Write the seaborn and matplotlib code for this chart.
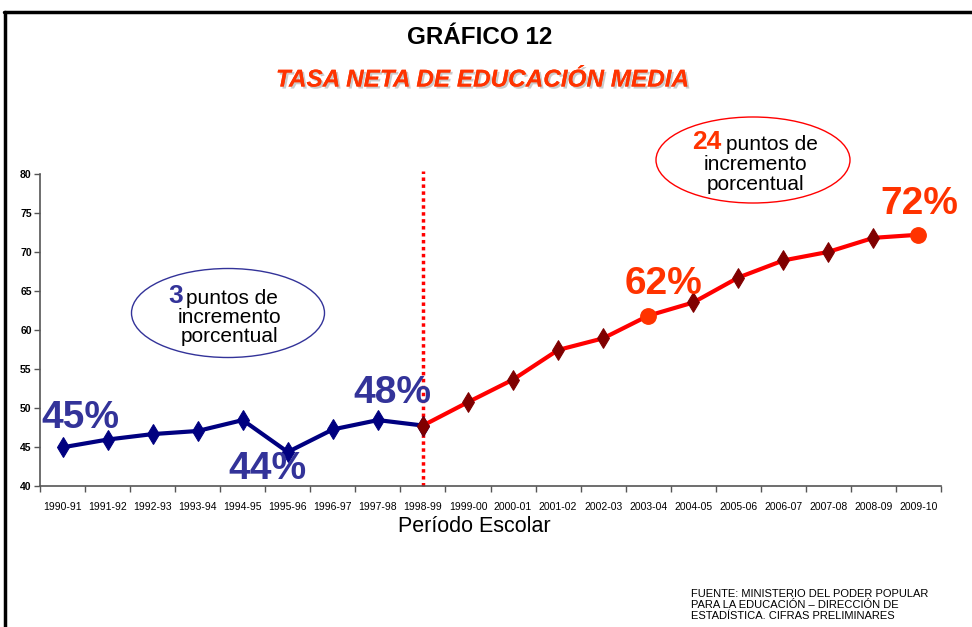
import matplotlib
matplotlib.use("Agg")
import matplotlib.pyplot as plt
import matplotlib.patheffects as pe
from matplotlib.patches import Ellipse
from matplotlib.lines import Line2D
import seaborn as sns
import pandas as pd

# Data
periods = ["1990-91", "1991-92", "1992-93", "1993-94", "1994-95", "1995-96", "1996-97",
           "1997-98", "1998-99", "1999-00", "2000-01", "2001-02", "2002-03", "2003-04",
           "2004-05", "2005-06", "2006-07", "2007-08", "2008-09", "2009-10"]
tasa = [44.9, 45.9, 46.6, 47.0, 48.4, 44.3, 47.2, 48.4, 47.7, 50.7,
        53.6, 57.4, 58.9, 61.8, 63.5, 66.7, 68.9, 70.0, 71.8, 72.2]
highlight = ["2003-04", "2009-10"]
y_ticks = [40, 45, 50, 55, 60, 65, 70, 75, 80]

df = pd.DataFrame({"periodo": periods, "tasa": tasa})
first = df.iloc[:9]
second = df.iloc[8:]
marked = second[~second["periodo"].isin(highlight)]
circles = second[second["periodo"].isin(highlight)]

sns.set_theme(style="white")
plt.rcParams["font.family"] = ["Liberation Sans", "DejaVu Sans"]
plt.rcParams["text.color"] = "black"
plt.rcParams["axes.labelcolor"] = "black"
plt.rcParams["xtick.color"] = "black"
plt.rcParams["ytick.color"] = "black"

W, H = 972, 627
fig = plt.figure(figsize=(9.72, 6.27), dpi=100)
ax = fig.add_axes([40 / W, 1 - 485.5 / H, 901 / W, 311.5 / H])


def px(x, y):
    return x / W, 1 - y / H


sns.lineplot(data=first, x="periodo", y="tasa", ax=ax, color="#000080", lw=3,
             marker="d", markersize=10, markeredgecolor="#000080", sort=False)
sns.lineplot(data=second, x="periodo", y="tasa", ax=ax, color="#FF0000", lw=3, sort=False)
sns.scatterplot(data=marked, x="periodo", y="tasa", ax=ax, marker="d", s=100,
                color="#800000", edgecolor="#800000", zorder=5)
sns.scatterplot(data=circles, x="periodo", y="tasa", ax=ax, marker="o", s=125,
                color="#FF3300", edgecolor="#FF3300", zorder=5)

ax.axvline(periods.index("1998-99"), ymin=0, ymax=1.01, color="#FF0000", ls=(0, (1, 1)),
           lw=2.5, zorder=1, clip_on=False)

ax.set_xlim(-0.5, len(periods) - 0.5)
ax.set_ylim(40, 80)
ax.set_yticks(y_ticks)
ax.set_xticks(range(len(periods)))
ax.set_xticklabels(periods, fontsize=7.5)
ax.set_xticks([i - 0.5 for i in range(len(periods) + 1)], minor=True)
ax.tick_params(axis="x", which="major", length=0, pad=12)
ax.tick_params(axis="x", which="minor", length=4, width=1, color="#555555", direction="out")
ax.tick_params(axis="y", length=4, width=1, color="#555555", direction="out", pad=2)
ax.tick_params(axis="both", which="both", bottom=True, left=True)
for lab in ax.get_yticklabels():
    lab.set_fontsize(7.5)
    lab.set_fontweight("bold")
for side in ["top", "right"]:
    ax.spines[side].set_visible(False)
for side in ["left", "bottom"]:
    ax.spines[side].set_color("#555555")
    ax.spines[side].set_linewidth(1.2)
ax.set_xlabel("Período Escolar", fontsize=15.5)
ax.xaxis.set_label_coords((474 - 40) / 901, -(527 - 485.5) / 311.5)
ax.xaxis.label.set_va("center")
ax.set_ylabel("")

# titles
fig.text(*px(480, 38), "GRÁFICO 12", fontsize=17.5, fontweight="bold", ha="center", va="center")
fig.text(*px(482, 80), "TASA NETA DE EDUCACIÓN MEDIA", fontsize=17.5, fontweight="bold",
         style="italic", color="#FF3300", ha="center", va="center",
         path_effects=[pe.withSimplePatchShadow(offset=(1.5, -1.5), shadow_rgbFace="#999999", alpha=0.5),
                       pe.Normal()])

# percentage labels
blue_txt = "#333399"
orange_txt = "#FF3300"
for x, y, s, c in [(80, 418, "45%", blue_txt), (267, 469, "44%", blue_txt),
                   (392, 393, "48%", blue_txt), (663, 284, "62%", orange_txt),
                   (919, 204, "72%", orange_txt)]:
    fig.text(*px(x, y), s, fontsize=28, fontweight="bold", color=c, ha="center", va="center")

# ellipses with notes
fig.add_artist(Ellipse(px(228, 313), 193 / W, 89 / H, transform=fig.transFigure,
                       fill=False, edgecolor="#333399", lw=1))
fig.add_artist(Ellipse(px(753, 160), 194 / W, 86 / H, transform=fig.transFigure,
                       fill=False, edgecolor="#FF0000", lw=1))

fig.text(*px(183, 296), "3", fontsize=19, fontweight="bold", color=blue_txt, ha="right", va="center")
fig.text(*px(186, 298), "puntos de", fontsize=15, ha="left", va="center")
fig.text(*px(229, 317), "incremento", fontsize=15, ha="center", va="center")
fig.text(*px(229, 337), "porcentual", fontsize=15, ha="center", va="center")

fig.text(*px(721, 142), "24", fontsize=19, fontweight="bold", color=orange_txt, ha="right", va="center")
fig.text(*px(726, 144), "puntos de", fontsize=15, ha="left", va="center")
fig.text(*px(755, 164), "incremento", fontsize=15, ha="center", va="center")
fig.text(*px(755, 185), "porcentual", fontsize=15, ha="center", va="center")

# source
fig.text(*px(691, 589), "FUENTE: MINISTERIO DEL PODER POPULAR\nPARA LA EDUCACIÓN – DIRECCIÓN DE\n"
         "ESTADÍSTICA. CIFRAS PRELIMINARES", fontsize=8, ha="left", va="top", linespacing=1.12)

# frame lines
fig.add_artist(Line2D([4 / W, 1], [1 - 12 / H, 1 - 12 / H], transform=fig.transFigure, color="black", lw=2.5))
fig.add_artist(Line2D([5 / W, 5 / W], [0, 1 - 12 / H], transform=fig.transFigure, color="black", lw=2.5))

fig.savefig("out.png", dpi=100)
